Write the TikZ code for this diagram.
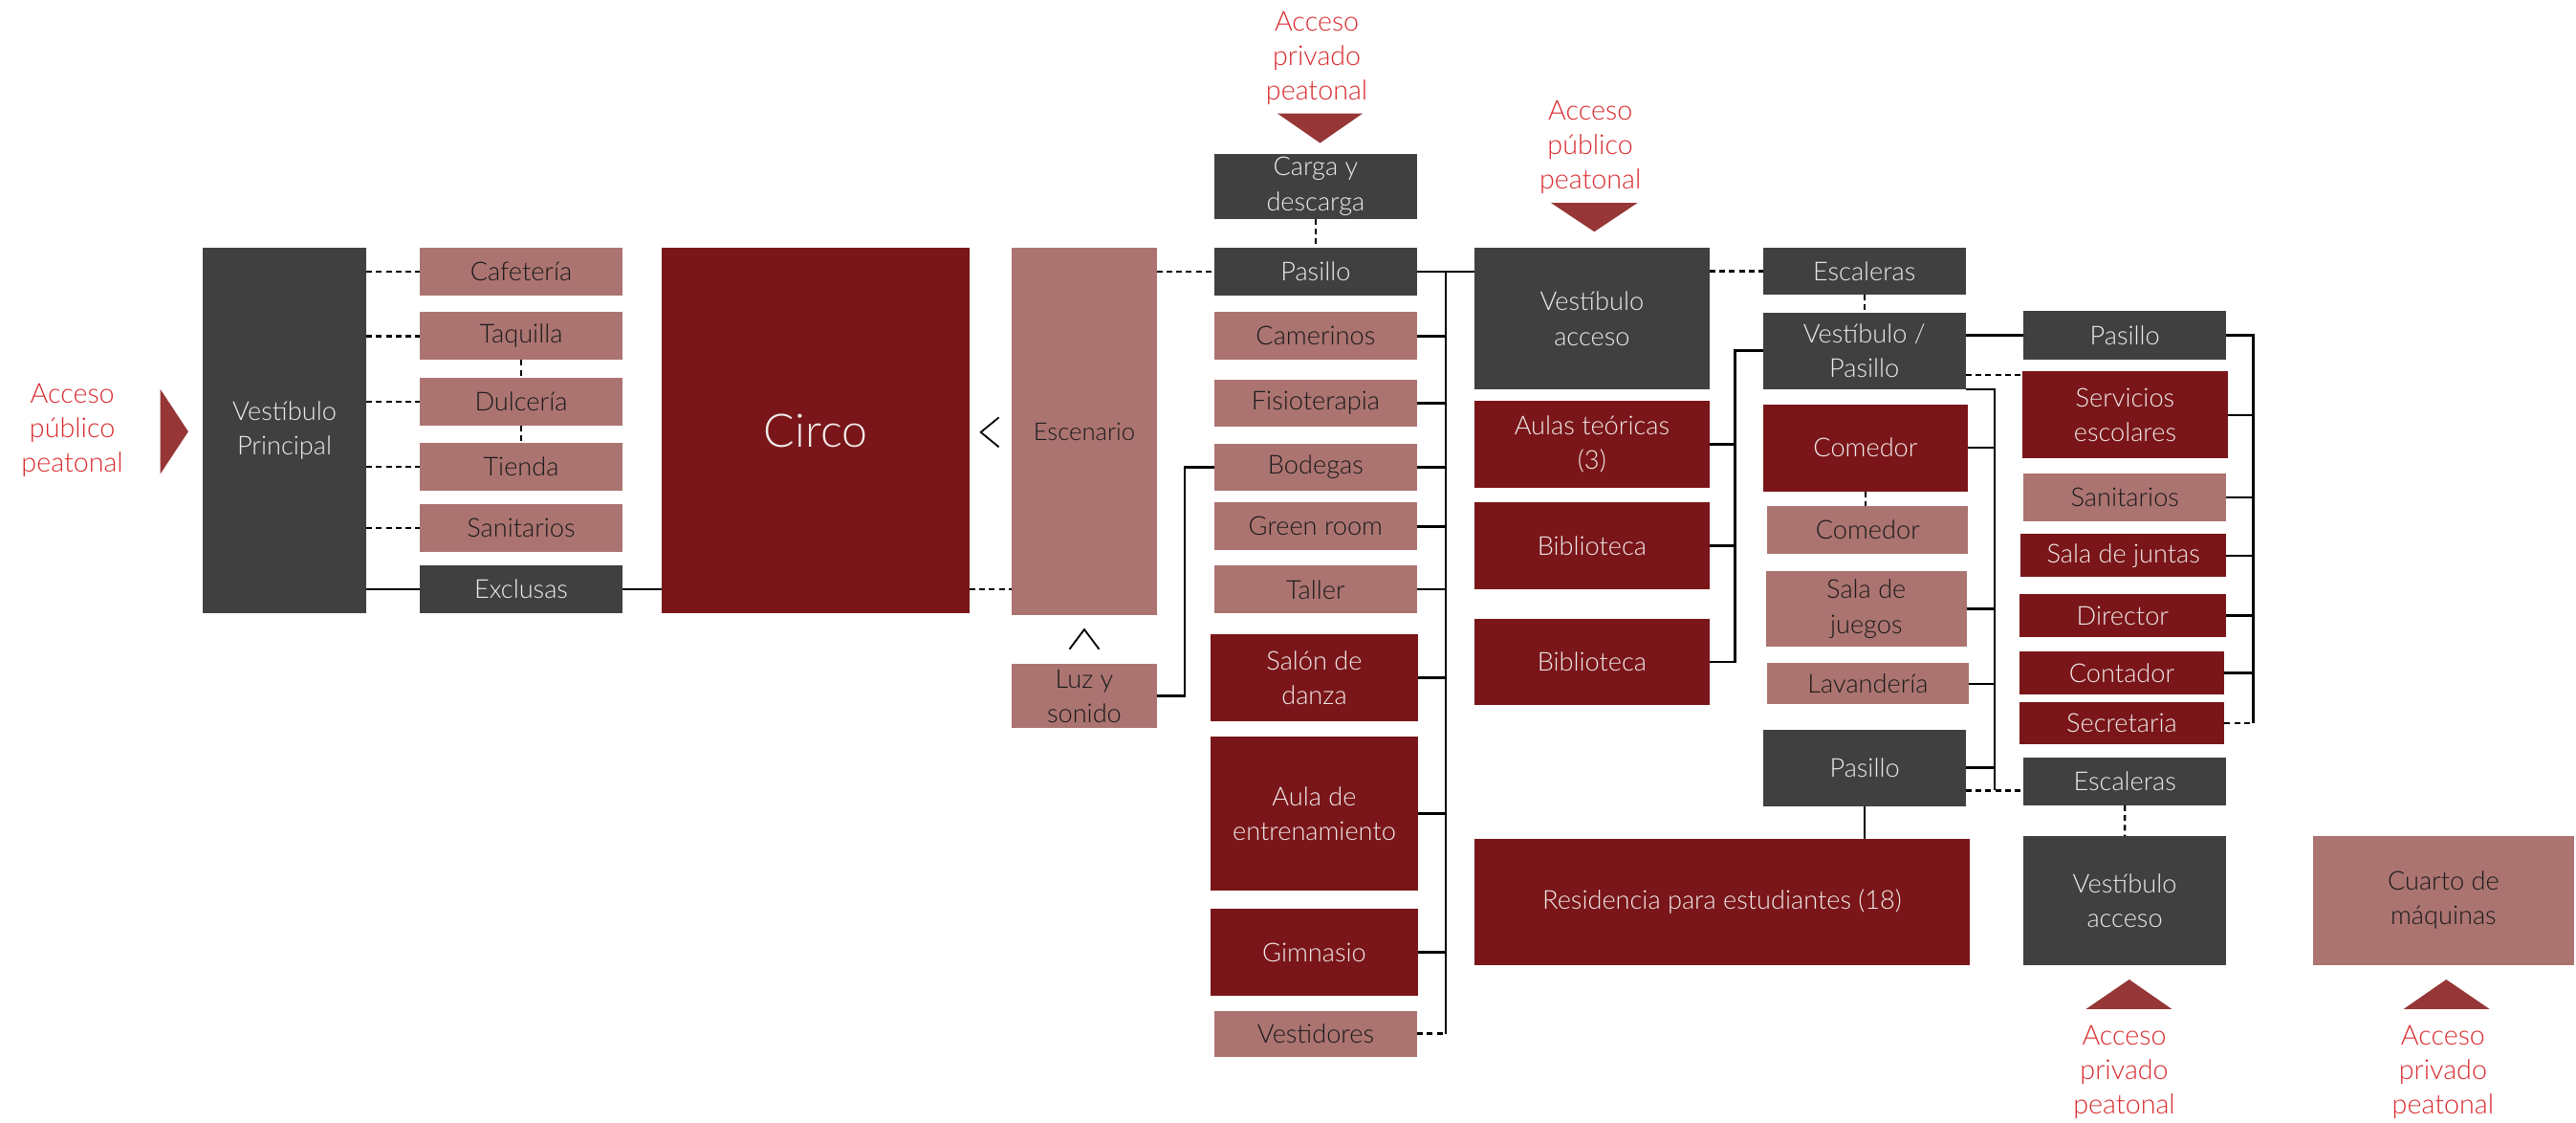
\documentclass[tikz,border=0pt]{standalone}
\usepackage{fontspec}
\setmainfont{Lato}[UprightFont=* Light, BoldFont=*]
\usetikzlibrary{calc}
\definecolor{PlanGray}{HTML}{404040}
\definecolor{PlanRed}{HTML}{7A1619}
\definecolor{PlanRose}{HTML}{AB7471}
\definecolor{PlanArrow}{HTML}{963636}
\definecolor{PlanText}{HTML}{D92B2F}
\definecolor{PlanLight}{HTML}{F0EAEA}
\definecolor{PlanInk}{HTML}{1A1A1A}

\begin{document}
\begin{tikzpicture}[
      room/.style={rectangle, draw=none, outer sep=0pt, minimum width=2.47cm, minimum height=0.58cm,
                   align=center, inner sep=1pt, font=\fontsize{9}{12}\selectfont},
      grayroom/.style={room, fill=PlanGray, text=PlanLight},
      redroom/.style={room, fill=PlanRed, text=PlanLight},
      roseroom/.style={room, fill=PlanRose, text=PlanInk},
      acceso/.style={align=center, text=PlanText, font=\fontsize{9.5}{12}\selectfont},
      tri/.style={fill=PlanArrow},
      link/.style={draw=black, line width=0.8pt},
      dlink/.style={link, dash pattern=on 2pt off 1.4pt},
      chev/.style={draw=black, line width=0.6pt}]
      \fill[white] (0,0) rectangle (31.36,-13.66);
      \useasboundingbox (0,0) rectangle (31.36,-13.66);
      % Left wing: public lobby
      \node[acceso] (accL) at (0.88,-5.24) {Acceso\\público\\peatonal};
      \fill[tri] (1.95,-4.734) -- (1.95,-5.77) -- (2.292,-5.252) -- cycle;
      \node[grayroom, minimum width=1.99cm, minimum height=4.44cm] (vp) at (3.464,-5.24) {Vestíbulo\\Principal};
      \node[roseroom] (caf) at (6.344,-3.308) {Cafetería};
      \node[roseroom] (taq) at (6.344,-4.09) {Taquilla};
      \node[roseroom] (dul) at (6.344,-4.89) {Dulcería};
      \node[roseroom] (tie) at (6.344,-5.68) {Tienda};
      \node[roseroom] (san) at (6.344,-6.428) {Sanitarios};
      \node[grayroom] (exc) at (6.344,-7.17) {Exclusas};
      \foreach \n in {caf,taq,dul,tie,san}
         \draw[dlink] (vp.east |- \n) -- (\n.west);
      \draw[dlink] (taq.south) -- (dul.north);
      \draw[dlink] (dul.south) -- (tie.north);
      \draw[link] (vp.east |- exc) -- (exc.west);
      % Circus and stage
      \node[redroom, minimum width=3.74cm, minimum height=4.44cm, font=\fontsize{16}{18}\selectfont] (circo) at (9.93,-5.24) {Circo};
      \node[roseroom, minimum width=1.76cm, minimum height=4.46cm, font=\fontsize{8.5}{11}\selectfont] (esc) at (13.2,-5.25) {Escenario};
      \node[roseroom, minimum width=1.76cm, minimum height=0.78cm] (luz) at (13.2,-8.47) {Luz y\\sonido};
      \draw[link] (exc.east) -- (circo.west |- exc);
      \draw[dlink] (circo.east |- exc) -- (esc.west |- exc);
      \draw[chev] (12.16,-5.08) -- (11.94,-5.26) -- (12.16,-5.44);
      \draw[chev] (13.02,-7.9) -- (13.2,-7.66) -- (13.38,-7.9);
      % Backstage column
      \node[acceso] (accP) at (16.03,-0.71) {Acceso\\privado\\peatonal};
      \fill[tri] (15.55,-1.38) -- (16.59,-1.38) -- (16.07,-1.74) -- cycle;
      \node[grayroom, minimum height=0.79cm] (carga) at (16.016,-2.268) {Carga y\\descarga};
      \node[grayroom] (pas1) at (16.016,-3.304) {Pasillo};
      \node[roseroom] (cam) at (16.016,-4.09) {Camerinos};
      \node[roseroom] (fis) at (16.016,-4.906) {Fisioterapia};
      \node[roseroom] (bod) at (16.016,-5.686) {Bodegas};
      \node[roseroom] (green) at (16.016,-6.406) {Green room};
      \node[roseroom] (taller) at (16.016,-7.174) {Taller};
      \node[redroom, minimum width=2.52cm, minimum height=1.054cm] (salon) at (16.0,-8.248) {Salón de\\danza};
      \node[redroom, minimum width=2.52cm, minimum height=1.88cm] (aula) at (16.0,-9.9) {Aula de\\entrenamiento};
      \node[redroom, minimum width=2.52cm, minimum height=1.06cm] (gim) at (16.0,-11.59) {Gimnasio};
      \node[roseroom, minimum height=0.56cm] (vest) at (16.016,-12.58) {Vestidores};
      \coordinate (luzbus) at (14.42,0);
      \coordinate (bus1) at (17.6,0);
      \draw[dlink] (carga.south) -- (pas1.north);
      \draw[dlink] (esc.east |- pas1) -- (pas1.west);
      \draw[link] (luz.east) -- (luz.east -| luzbus) |- (bod.west);
      \draw[link] (pas1.east -| bus1) -- (vest.east -| bus1);
      \foreach \n in {cam,fis,bod,green,taller,salon,aula,gim}
         \draw[link] (\n.east) -- (\n.east -| bus1);
      \draw[dlink] (vest.east) -- (vest.east -| bus1);
      % School: access lobby, classrooms, library
      \node[acceso] (accE) at (19.36,-1.792) {Acceso\\público\\peatonal};
      \fill[tri] (18.88,-2.468) -- (19.936,-2.468) -- (19.408,-2.82) -- cycle;
      \node[grayroom, minimum width=2.86cm, minimum height=1.72cm] (va) at (19.38,-3.88) {Vestíbulo\\acceso};
      \node[redroom, minimum width=2.86cm, minimum height=1.054cm] (aulas) at (19.38,-5.408) {Aulas teóricas\\(3)};
      \node[redroom, minimum width=2.86cm, minimum height=1.056cm] (bib1) at (19.38,-6.642) {Biblioteca};
      \node[redroom, minimum width=2.86cm, minimum height=1.044cm] (bib2) at (19.38,-8.054) {Biblioteca};
      \node[redroom, minimum width=6.024cm, minimum height=1.53cm] (res) at (20.964,-10.976) {Residencia para estudiantes (18)};
      \draw[link] (pas1.east) -- (pas1.east -| va.west);
      % Middle column
      \node[grayroom, minimum height=0.566cm] (escal1) at (22.696,-3.298) {Escaleras};
      \node[grayroom, minimum height=0.934cm] (vpas) at (22.696,-4.268) {Vestíbulo /\\Pasillo};
      \node[redroom, minimum width=2.5cm, minimum height=1.06cm] (com1) at (22.71,-5.45) {Comedor};
      \node[roseroom, minimum width=2.446cm, minimum height=0.576cm] (com2) at (22.738,-6.448) {Comedor};
      \node[roseroom, minimum width=2.44cm, minimum height=0.924cm] (sala) at (22.72,-7.41) {Sala de\\juegos};
      \node[roseroom, minimum width=2.446cm, minimum height=0.5cm] (lav) at (22.74,-8.32) {Lavandería};
      \node[grayroom, minimum width=2.46cm, minimum height=0.93cm] (pas2) at (22.7,-9.344) {Pasillo};
      \coordinate (bus2) at (21.12,0);
      \coordinate (bus3) at (24.28,0);
      \coordinate (bus3end) at (24.28,-9.62);
      \draw[dlink] (va.east |- escal1) -- (escal1.west);
      \draw[dlink] (escal1.south) -- (vpas.north);
      \draw[link] (vpas.west) -- (vpas.west -| bus2) -- (bib2.east -| bus2) -- (bib2.east);
      \foreach \n in {aulas,bib1}
         \draw[link] (\n.east) -- (\n.east -| bus2);
      \draw[dlink] (com1.south) -- (com1.south |- com2.north);
      \draw[link] (vpas.south east) -- (vpas.south east -| bus3) -- (bus3end);
      \foreach \n in {com1,sala,lav,pas2}
         \draw[link] (\n.east) -- (\n.east -| bus3);
      \draw[link] (pas2.south) -- (pas2.south |- res.north);
      % Administration column
      \node[grayroom, minimum height=0.6cm] (pas3) at (25.868,-4.08) {Pasillo};
      \node[redroom, minimum width=2.5cm, minimum height=1.06cm] (serv) at (25.87,-5.05) {Servicios\\escolares};
      \node[roseroom] (san2) at (25.868,-6.05) {Sanitarios};
      \node[redroom, minimum width=2.5cm, minimum height=0.52cm] (juntas) at (25.85,-6.76) {Sala de juntas};
      \node[redroom, minimum width=2.52cm, minimum height=0.52cm] (dir) at (25.84,-7.49) {Director};
      \node[redroom, minimum width=2.5cm, minimum height=0.52cm] (cont) at (25.83,-8.188) {Contador};
      \node[redroom, minimum width=2.5cm, minimum height=0.52cm] (secr) at (25.83,-8.8) {Secretaria};
      \node[grayroom] (escal2) at (25.868,-9.51) {Escaleras};
      \node[grayroom, minimum height=1.566cm] (va2) at (25.866,-10.958) {Vestíbulo\\acceso};
      \node[roseroom, minimum width=3.17cm, minimum height=1.566cm] (cuarto) at (29.746,-10.958) {Cuarto de\\máquinas};
      \fill[tri] (25.394,-12.28) -- (26.44,-12.28) -- (25.92,-11.92) -- cycle;
      \node[acceso] (accS) at (25.86,-13.05) {Acceso\\privado\\peatonal};
      \fill[tri] (29.26,-12.28) -- (30.308,-12.28) -- (29.78,-11.92) -- cycle;
      \node[acceso] (accM) at (29.74,-13.05) {Acceso\\privado\\peatonal};
      \coordinate (bus4) at (27.432,0);
      \coordinate (servin) at ([yshift=-1.3pt]serv.north west);
      \draw[link] (pas3.west) -- (pas3.west -| vpas.east);
      \draw[dlink] (servin -| vpas.east) -- (servin);
      \draw[dlink] (pas2.east |- bus3end) -- (escal2.west |- bus3end);
      \draw[link] (pas3.east) -- (pas3.east -| bus4) -- (secr.east -| bus4);
      \foreach \n in {serv,san2,juntas,dir,cont}
         \draw[link] (\n.east) -- (\n.east -| bus4);
      \draw[dlink] (secr.east) -- (secr.east -| bus4);
      \draw[dlink] (escal2.south) -- (va2.north);
   \end{tikzpicture}
\end{document}
